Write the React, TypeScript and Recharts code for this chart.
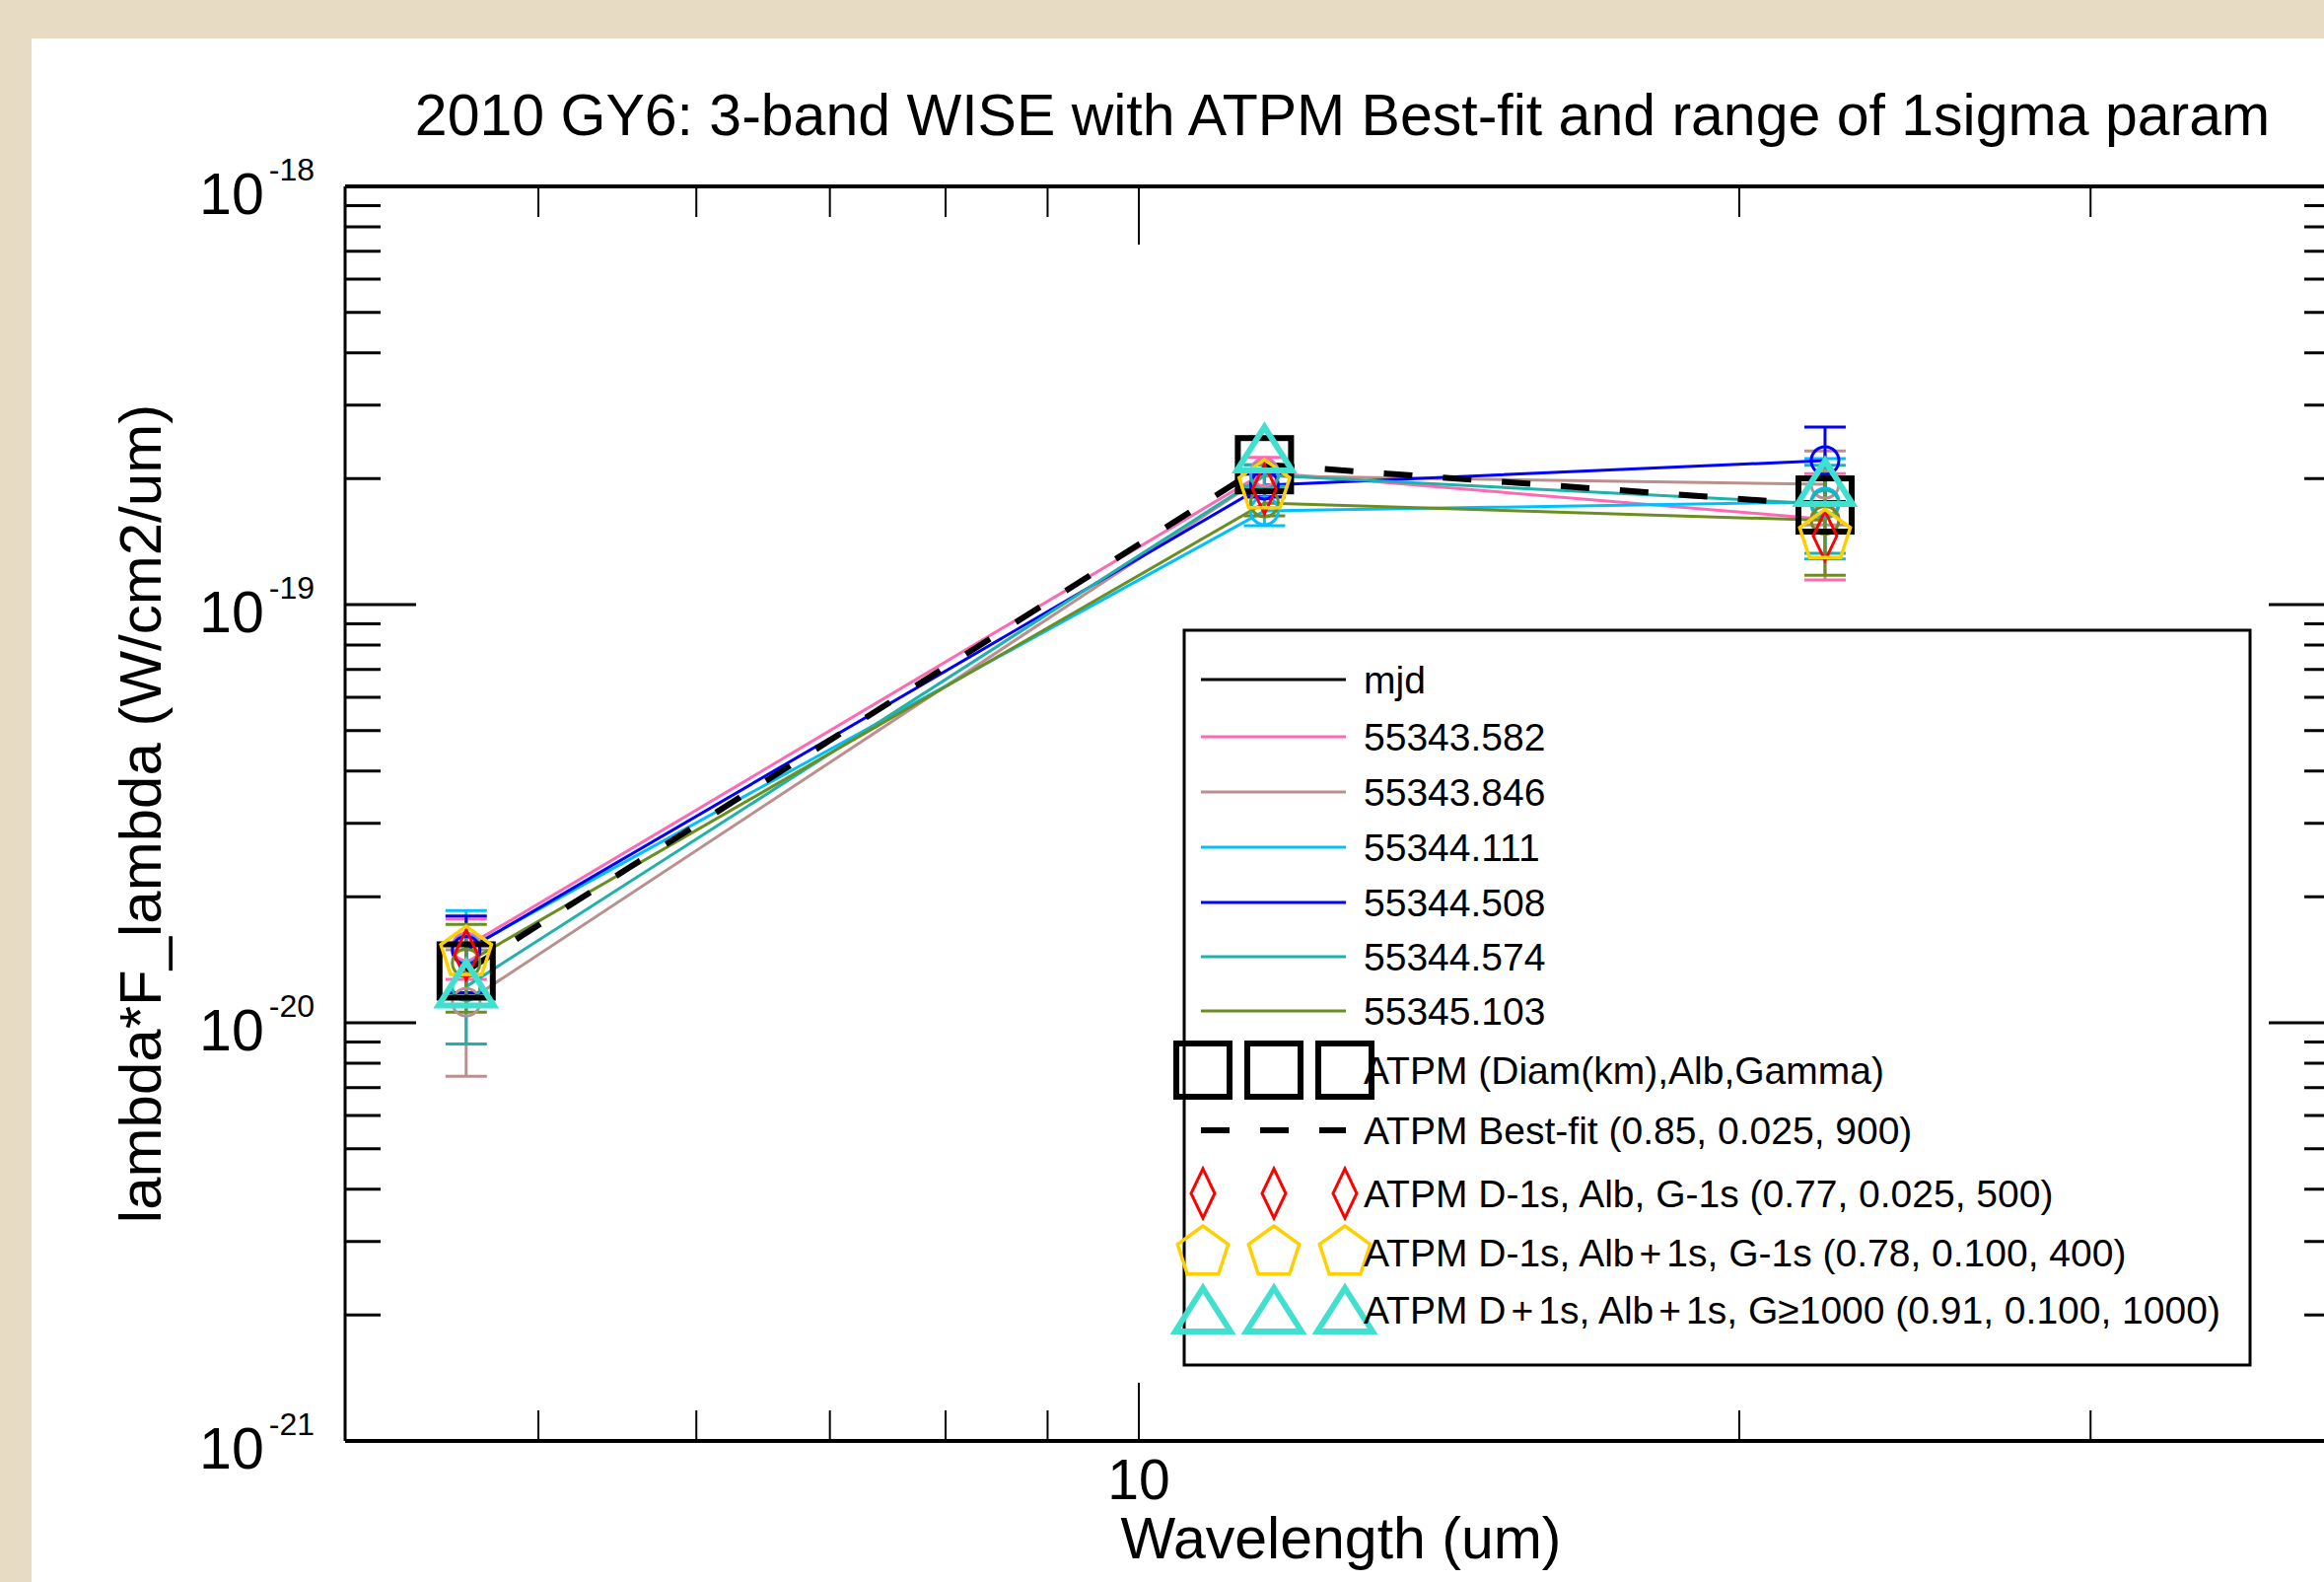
import React from 'react';
import { ComposedChart, Line, XAxis, YAxis, ErrorBar } from 'recharts';

// ---------- data ----------
const wavelengths = [4.6, 11.56, 22.08];

const seriesNames = ['55343.582', '55343.846', '55344.111', '55344.508', '55344.574', '55345.103'];
const seriesColors = ['#FF69B4', '#BC8F8F', '#00BFFF', '#0000FF', '#20B2AA', '#6B8E23'];

const flux55343_582 = [1.52e-20, 2.07e-19, 1.6e-19];
const flux55343_846 = [1.12e-20, 2.03e-19, 1.94e-19];
const flux55344_111 = [1.5e-20, 1.675e-19, 1.76e-19];
const flux55344_508 = [1.49e-20, 1.93e-19, 2.21e-19];
const flux55344_574 = [1.22e-20, 2.04e-19, 1.74e-19];
const flux55345_103 = [1.39e-20, 1.75e-19, 1.59e-19];

const err55343_582 = [0.25e-20, 0.18e-19, 0.455e-19];
const err55343_846 = [0.375e-20, 0.13e-19, 0.39e-19];
const err55344_111 = [0.355e-20, 0.13e-19, 0.475e-19];
const err55344_508 = [0.31e-20, 0.12e-19, 0.447e-19];
const err55344_574 = [0.33e-20, 0.12e-19, 0.414e-19];
const err55345_103 = [0.33e-20, 0.12e-19, 0.415e-19];

const seriesValues = [flux55343_582, flux55343_846, flux55344_111, flux55344_508, flux55344_574, flux55345_103];
const seriesErrors = [err55343_582, err55343_846, err55344_111, err55344_508, err55344_574, err55345_103];

const atpmBestFit = [1.33e-20, 2.16e-19, 1.73e-19];
const atpmDm1AlbGm1 = [1.455e-20, 1.89e-19, 1.46e-19];
const atpmDm1Albp1Gm1 = [1.47e-20, 1.92e-19, 1.46e-19];
const atpmDp1Albp1G1000 = [1.24e-20, 2.36e-19, 1.96e-19];

const xTicks = [5, 6, 7, 8, 9, 10, 20, 30];
const xMajorTicks = [10];
const xTickLabels = ['10'];
const yMajorTicks = [1e-21, 1e-20, 1e-19, 1e-18];
const yExpLabels = ['-21', '-20', '-19', '-18'];
const yMinorMultipliers = [2, 3, 4, 5, 6, 7, 8, 9];

const titleText = '2010 GY6: 3-band WISE with ATPM Best-fit and range of 1sigma param';
const xLabelText = 'Wavelength (um)';
const yLabelText = 'lambda*F_lambda (W/cm2/um)';
const legendHeader = 'mjd';
const legendModelLabels = [
  'ATPM (Diam(km),Alb,Gamma)',
  'ATPM Best-fit (0.85, 0.025, 900)',
  'ATPM D-1s, Alb, G-1s (0.77, 0.025, 500)',
  'ATPM D-1s, Alb+1s, G-1s (0.78, 0.100, 400)',
  'ATPM D+1s, Alb+1s, G\u22651000 (0.91, 0.100, 1000)',
];

// ---------- layout ----------
const W = 2420;
const H = 1604;
const PL = 350;
const PR = 2373;
const PT = 189;
const PB = 1461;
const FONT = '"Liberation Sans", Arial, Helvetica, sans-serif';

const yTicks: number[] = [];
yMajorTicks.forEach((m, i) => {
  yTicks.push(m);
  if (i < yMajorTicks.length - 1) yMinorMultipliers.forEach((k) => yTicks.push(m * k));
});

const tableData = wavelengths.map((wl, i) => {
  const row: any = { wl };
  seriesValues.forEach((arr, s) => {
    row['s' + s] = arr[i];
    row['e' + s] = [seriesErrors[s][i], seriesErrors[s][i]];
  });
  row.best = atpmBestFit[i];
  row.dia = atpmDm1AlbGm1[i];
  row.pent = atpmDm1Albp1Gm1[i];
  row.tri = atpmDp1Albp1G1000[i];
  return row;
});

// ---------- shapes ----------
const SquareMark = ({ cx, cy }: any) => (
  <rect x={cx - 27} y={cy - 27} width={54} height={54} fill="none" stroke="#000" strokeWidth={6} />
);
const DiamondMark = ({ cx, cy }: any) => (
  <polygon
    points={`${cx},${cy - 25} ${cx + 12},${cy} ${cx},${cy + 25} ${cx - 12},${cy}`}
    fill="none"
    stroke="#FF0000"
    strokeWidth={3}
  />
);
const PentagonMark = ({ cx, cy }: any) => {
  const R = 27;
  const pts = [0, 1, 2, 3, 4]
    .map((k) => {
      const a = ((-90 + 72 * k) * Math.PI) / 180;
      return `${cx + R * Math.cos(a)},${cy + R * Math.sin(a)}`;
    })
    .join(' ');
  return <polygon points={pts} fill="none" stroke="#FFD000" strokeWidth={3.5} />;
};
const TriangleMark = ({ cx, cy }: any) => (
  <polygon
    points={`${cx},${cy - 22} ${cx + 28},${cy + 22} ${cx - 28},${cy + 22}`}
    fill="none"
    stroke="#40E0D0"
    strokeWidth={6}
    strokeLinejoin="miter"
  />
);

const mkDot = (Comp: any) => (props: any) => {
  const { cx, cy, index } = props;
  if (cx == null || cy == null) return <g key={'d' + index} />;
  return <Comp key={'d' + index} cx={cx} cy={cy} />;
};

// ---------- ticks ----------
const isMajorY = (v: number) => yMajorTicks.findIndex((m) => Math.abs(m - v) / m < 1e-6);

const LeftYTick = (props: any) => {
  const { y, payload } = props;
  const idx = isMajorY(payload.value);
  const major = idx >= 0;
  return (
    <g>
      <line x1={PL} x2={PL + (major ? 72 : 36)} y1={y} y2={y} stroke="#000" strokeWidth={3} />
      {major && (
        <text x={319} y={y + 28} textAnchor="end" fontFamily={FONT} fill="#000">
          <tspan fontSize={59}>10</tspan>
          <tspan fontSize={32} dx={5} dy={-34}>
            {yExpLabels[idx]}
          </tspan>
        </text>
      )}
    </g>
  );
};

const RightYTick = (props: any) => {
  const { y, payload } = props;
  const major = isMajorY(payload.value) >= 0;
  return (
    <g>
      <line x1={PR - (major ? 72 : 36)} x2={PR} y1={y} y2={y} stroke="#000" strokeWidth={3} />
    </g>
  );
};

const BottomXTick = (props: any) => {
  const { x, payload } = props;
  const idx = xMajorTicks.indexOf(payload.value);
  const major = idx >= 0;
  return (
    <g>
      <line x1={x} x2={x} y1={PB} y2={PB - (major ? 59 : 31)} stroke="#000" strokeWidth={2} />
      {major && (
        <text x={x} y={1520} textAnchor="middle" fontFamily={FONT} fontSize={57} fill="#000">
          {xTickLabels[idx]}
        </text>
      )}
    </g>
  );
};

const TopXTick = (props: any) => {
  const { x, payload } = props;
  const major = xMajorTicks.indexOf(payload.value) >= 0;
  return (
    <g>
      <line x1={x} x2={x} y1={PT} y2={PT + (major ? 59 : 31)} stroke="#000" strokeWidth={2} />
    </g>
  );
};

// ---------- legend ----------
const LEG_X = 1201;
const LEG_Y = 639;
const LEG_W = 1081;
const LEG_H = 745;
const legendRowsY = [689, 747, 803, 859, 915, 970, 1025, 1085, 1146, 1210, 1270, 1328];
const LINE_X1 = 1218;
const LINE_X2 = 1365;
const TEXT_X = 1383;
const MARK_X = [1220, 1292, 1364];
const LEG_FS = 39;

// render "+" with a little extra room, as the original plotting font does
const spacedText = (s: string) => {
  const parts = s.split('+');
  const out: any[] = [];
  parts.forEach((p, i) => {
    if (i > 0) {
      out.push(
        <tspan key={'p' + i} dx={5}>
          +
        </tspan>
      );
      out.push(
        <tspan key={'q' + i} dx={5}>
          {p}
        </tspan>
      );
    } else {
      out.push(<tspan key={'q' + i}>{p}</tspan>);
    }
  });
  return out;
};

const LegendOverlay = () => {
  const txt = (y: number, s: string, k: string) => (
    <text key={k} x={TEXT_X} y={y + 14} fontFamily={FONT} fontSize={LEG_FS} fill="#000">
      {spacedText(s)}
    </text>
  );
  const items: any[] = [];
  items.push(<line key="l0" x1={LINE_X1} x2={LINE_X2} y1={legendRowsY[0]} y2={legendRowsY[0]} stroke="#000" strokeWidth={3} />);
  items.push(txt(legendRowsY[0], legendHeader, 't0'));
  seriesNames.forEach((n, i) => {
    const y = legendRowsY[i + 1];
    items.push(<line key={'l' + (i + 1)} x1={LINE_X1} x2={LINE_X2} y1={y} y2={y} stroke={seriesColors[i]} strokeWidth={3} />);
    items.push(txt(y, n, 't' + (i + 1)));
  });
  const marks = [SquareMark, null, DiamondMark, PentagonMark, TriangleMark];
  legendModelLabels.forEach((lab, j) => {
    const y = legendRowsY[7 + j];
    const M = marks[j];
    if (M) {
      MARK_X.forEach((mx, q) => items.push(<M key={'m' + j + '_' + q} cx={mx} cy={y} />));
    } else {
      items.push(
        <line key="dash" x1={1218} x2={1365} y1={y} y2={y} stroke="#000" strokeWidth={6} strokeDasharray="29 31" />
      );
    }
    items.push(txt(y, lab, 'mt' + j));
  });
  return (
    <g>
      <rect x={LEG_X} y={LEG_Y} width={LEG_W} height={LEG_H} fill="#fff" stroke="#000" strokeWidth={3} />
      {items}
    </g>
  );
};

export default function App() {
  return (
    <div
      style={{
        position: 'fixed',
        left: 0,
        top: 0,
        width: 2357,
        height: 1604,
        overflow: 'hidden',
        background: '#e7dcc3',
      }}
    >
      <div style={{ position: 'absolute', left: 32, top: 39, width: 2400, height: 1600, background: '#fff' }} />
      <div style={{ position: 'absolute', left: 0, top: 0 }}>
        <ComposedChart
          width={W}
          height={H}
          data={tableData}
          margin={{ top: PT - 1, bottom: H - PB - 60, left: PL - 100, right: W - PR - 1 }}
        >
          <XAxis
            xAxisId={0}
            dataKey="wl"
            type="number"
            scale="log"
            domain={[4, 40]}
            allowDataOverflow
            ticks={xTicks}
            interval={0}
            height={60}
            tickLine={false}
            axisLine={{ stroke: '#000', strokeWidth: 4 }}
            tick={<BottomXTick />}
          />
          <XAxis
            xAxisId="top"
            orientation="top"
            dataKey="wl"
            type="number"
            scale="log"
            domain={[4, 40]}
            allowDataOverflow
            ticks={xTicks}
            interval={0}
            height={1}
            tickLine={false}
            axisLine={{ stroke: '#000', strokeWidth: 4 }}
            tick={<TopXTick />}
          />
          <YAxis
            yAxisId={0}
            type="number"
            scale="log"
            domain={[1e-21, 1e-18]}
            allowDataOverflow
            ticks={yTicks}
            interval={0}
            width={100}
            tickLine={false}
            axisLine={{ stroke: '#000', strokeWidth: 3 }}
            tick={<LeftYTick />}
          />
          <YAxis
            yAxisId="right"
            orientation="right"
            type="number"
            scale="log"
            domain={[1e-21, 1e-18]}
            allowDataOverflow
            ticks={yTicks}
            interval={0}
            width={1}
            tickLine={false}
            axisLine={{ stroke: '#000', strokeWidth: 3 }}
            tick={<RightYTick />}
          />
          {seriesNames.map((n, s) => (
            <Line
              key={n}
              name={n}
              dataKey={'s' + s}
              xAxisId={0}
              yAxisId={0}
              stroke={seriesColors[s]}
              strokeWidth={3}
              dot={{ r: 14, fill: 'none', stroke: seriesColors[s], strokeWidth: 3 }}
              activeDot={false}
              isAnimationActive={false}
            >
              <ErrorBar dataKey={'e' + s} direction="y" width={21} strokeWidth={3} stroke={seriesColors[s]} />
            </Line>
          ))}
          <Line
            dataKey="best"
            name="squares"
            xAxisId={0}
            yAxisId={0}
            stroke="none"
            dot={mkDot(SquareMark)}
            activeDot={false}
            isAnimationActive={false}
          />
          <Line
            dataKey="best"
            name="bestfit"
            xAxisId={0}
            yAxisId={0}
            stroke="#000"
            strokeWidth={6}
            strokeDasharray="29 31"
            dot={false}
            activeDot={false}
            isAnimationActive={false}
          />
          <Line
            dataKey="dia"
            xAxisId={0}
            yAxisId={0}
            stroke="none"
            dot={mkDot(DiamondMark)}
            activeDot={false}
            isAnimationActive={false}
          />
          <Line
            dataKey="pent"
            xAxisId={0}
            yAxisId={0}
            stroke="none"
            dot={mkDot(PentagonMark)}
            activeDot={false}
            isAnimationActive={false}
          />
          <Line
            dataKey="tri"
            xAxisId={0}
            yAxisId={0}
            stroke="none"
            dot={mkDot(TriangleMark)}
            activeDot={false}
            isAnimationActive={false}
          />
        </ComposedChart>
      </div>
      <svg
        width={W}
        height={H}
        style={{ position: 'absolute', left: 0, top: 0, pointerEvents: 'none' }}
      >
        <text x={(PL + PR) / 2} y={137} textAnchor="middle" fontFamily={FONT} fontSize={59} fill="#000">
          {titleText}
        </text>
        <text x={1360} y={1580} textAnchor="middle" fontFamily={FONT} fontSize={59} fill="#000">
          {xLabelText}
        </text>
        <text
          transform={`translate(163, ${(PT + PB) / 2}) rotate(-90)`}
          textAnchor="middle"
          fontFamily={FONT}
          fontSize={60}
          fill="#000"
        >
          {yLabelText}
        </text>
        <LegendOverlay />
      </svg>
    </div>
  );
}
